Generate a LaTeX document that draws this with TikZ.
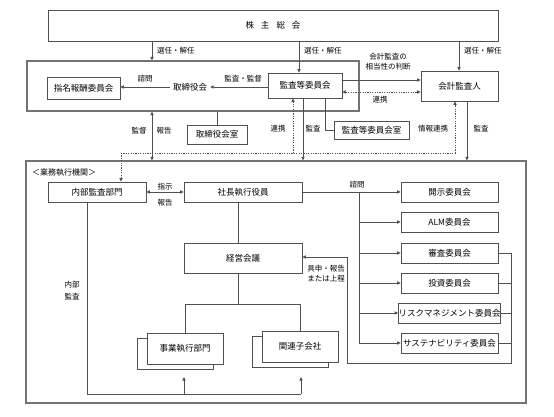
\documentclass[tikz,border=0pt]{standalone}
\usepackage{fontspec}
\setmainfont{Noto Sans CJK JP}
\usetikzlibrary{arrows.meta,calc}
\definecolor{lncol}{HTML}{505050}
\begin{document}
\begin{tikzpicture}[x=1pt,y=-1pt,
  box/.style={draw=lncol, line width=0.8pt, fill=white, inner sep=0pt, font=\fontsize{8.5}{10}\selectfont},
  obox/.style={draw=lncol!80, line width=1.2pt, inner sep=0pt},
  lbl/.style={inner sep=0pt, font=\fontsize{7.5}{9}\selectfont},
  conn/.style={draw=lncol, line width=0.8pt},
  arr/.style={conn, -{Triangle[length=3.5pt,width=3.2pt]}},
  darr/.style={conn, {Triangle[length=3.5pt,width=3.2pt]}-{Triangle[length=3.5pt,width=3.2pt]}},
  dotl/.style={draw=lncol, line width=0.8pt, dash pattern=on 1.2pt off 1.2pt},
  tip/.style={-{Triangle[length=3.5pt,width=3.2pt]}},
  dtip/.style={{Triangle[length=3.5pt,width=3.2pt]}-{Triangle[length=3.5pt,width=3.2pt]}}
]
\fill[white] (0,0) rectangle (554,416);
\useasboundingbox (0,0) rectangle (554,416);

% top
\node[box, minimum width=450pt, minimum height=31pt] (sh) at (273,25.5) {株\hspace{7pt}主\hspace{7pt}総\hspace{7pt}会};

% board region
\node[obox, minimum width=332pt, minimum height=50pt] (bd) at (193,86) {};
\node[box, minimum width=73pt, minimum height=22pt] (shimei) at (83.5,88) {指名報酬委員会};
\node[lbl, font=\fontsize{8.5}{10}\selectfont, inner xsep=3pt] (tr) at (190,87) {取締役会};
\node[box, minimum width=74pt, minimum height=25pt] (kansa) at (305,85.5) {監査等委員会};
\node[box, minimum width=77pt, minimum height=30pt] (kaikei) at (459.5,86) {会計監査人};
\node[box, minimum width=60pt, minimum height=19pt] (trs) at (217,134.5) {取締役会室};
\node[box, minimum width=75pt, minimum height=18pt] (kss) at (371.5,130) {監査等委員会室};

% exec region
\node[obox, minimum width=500pt, minimum height=242pt] (ex) at (276,282) {};
\node[lbl, anchor=west, font=\fontsize{8}{10}\selectfont] (exl) at (32,173) {＜業務執行機関＞};
\node[box, minimum width=98pt, minimum height=20pt] (naibu) at (97,192) {内部監査部門};
\node[box, minimum width=118pt, minimum height=20pt] (shacho) at (243,192) {社長執行役員};
\node[box, minimum width=118pt, minimum height=30pt] (keiei) at (243,258) {経営会議};

\node[box, minimum width=97pt, minimum height=20pt] (c1) at (449.5,192) {開示委員会};
\node[box, minimum width=97pt, minimum height=20pt] (c2) at (449.5,222) {ALM委員会};
\node[box, minimum width=97pt, minimum height=20pt] (c3) at (449.5,253) {審査委員会};
\node[box, minimum width=97pt, minimum height=20pt] (c4) at (449.5,283) {投資委員会};
\node[box, minimum width=97pt, minimum height=20pt] (c5) at (449.5,313) {リスクマネジメント委員会};
\node[box, minimum width=97pt, minimum height=20pt] (c6) at (449.5,343) {サステナビリティ委員会};

\node[box, minimum width=76pt, minimum height=31pt] (jigyob) at (175,353.5) {};
\node[box, minimum width=76pt, minimum height=31pt] (jigyo) at (185,348.5) {事業執行部門};
\node[box, minimum width=76pt, minimum height=31pt] (kanrenb) at (290,352) {};
\node[box, minimum width=76pt, minimum height=31pt] (kanren) at (300,346.5) {関連子会社};

% labels
\node[lbl, anchor=west] (l1) at (157,51) {選任・解任};
\node[lbl, anchor=west] (l2) at (304,51) {選任・解任};
\node[lbl, anchor=west] (l3) at (464,51) {選任・解任};
\node[lbl] (l4) at (145,79) {諮問};
\node[lbl] (l5) at (243,79) {監査・監督};
\node[lbl, align=center, font=\fontsize{7.5}{10}\selectfont] (l6) at (388,62) {会計監査の\\相当性の判断};
\node[lbl] (l7) at (380,100) {連携};
\node[lbl] (l8) at (139,131) {監督};
\node[lbl] (l9) at (164,131) {報告};
\node[lbl] (l10) at (278,129) {連携};
\node[lbl] (l11) at (313,129) {監査};
\node[lbl] (l12) at (433,129) {情報連携};
\node[lbl] (l13) at (481,129) {監査};
\node[lbl] (l14) at (165,187) {指示};
\node[lbl] (l15) at (165,203) {報告};
\node[lbl] (l16) at (357,185) {諮問};
\node[lbl, align=center, font=\fontsize{7.5}{10}\selectfont] (l17) at (326,274) {具申・報告\\または上程};
\node[lbl, align=center, font=\fontsize{7.5}{12}\selectfont] (l18) at (72,291) {内部\\監査};

% connectors top
\draw[arr] (152,0 |- sh.south) -- (152,0 |- bd.north);
\draw[arr] (299,0 |- sh.south) -- (299,0 |- kansa.north);
\draw[arr] (459,0 |- sh.south) -- (459,0 |- kaikei.north);
\draw[arr] (tr.west) -- (shimei.east |- tr.west);
\draw[arr] (kansa.west |- tr.east) -- (tr.east);
\draw[arr] (kansa.east |- 0,80) -- (kaikei.west |- 0,80);
\draw[dotl, dtip] (kansa.east |- 0,92) -- (kaikei.west |- 0,92);
\draw[conn] (217,0 |- bd.south) -- (trs.north);
\draw[conn] (325,0 |- kansa.south) |- (kss.west);
\draw[arr] (303,0 |- kansa.south) -- (303,0 |- ex.north);
\draw[arr] (467,0 |- kaikei.south) -- (467,0 |- ex.north);
\draw[darr] (152,0 |- bd.south) -- (152,0 |- ex.north);

% dotted network
\coordinate (dl) at (121,153);
\coordinate (dr) at (455,153);
\draw[dotl] (dl) -- (dr);
\draw[dotl, tip] (dl) -- (dl |- naibu.north);
\draw[dotl, tip] (293,153) -- (293,0 |- kansa.south);
\draw[dotl, tip] (dr) -- (dr |- kaikei.south);

% exec connectors
\draw[darr] (naibu.east) -- (shacho.west);
\draw[conn] (238,0 |- shacho.south) -- (238,0 |- keiei.north);
\draw[arr] (shacho.east) -- (c1.west);
\draw[conn] (359,192) -- (359,343);
\draw[arr] (359,0 |- c2.west) -- (c2.west);
\draw[arr] (359,0 |- c3.west) -- (c3.west);
\draw[arr] (359,0 |- c4.west) -- (c4.west);
\draw[arr] (359,0 |- c5.west) -- (c5.west);
\draw[arr] (359,0 |- c6.west) -- (c6.west);
\draw[conn] (c3.east) -- (511,0 |- c3.east);
\draw[conn] (c4.east) -- (511,0 |- c4.east);
\draw[conn] (c5.east) -- (511,0 |- c5.east);
\draw[conn] (c6.east) -- (511,0 |- c6.east);
\draw[arr] (511,0 |- c3.east) -- (511,363) -- (347,363) -- (347,257) -- (keiei.east |- 0,257);

\draw[conn] (238,0 |- keiei.south) -- (238,304);
\draw[conn] (jigyo.north) |- (kanren.north |- 0,304) -- (kanren.north);
\draw[conn] (87,0 |- naibu.south) |- (301,394);
\draw[arr] (184,394) -- (184,377);
\draw[arr] (301,394) -- (301,377);
\end{tikzpicture}
\end{document}
